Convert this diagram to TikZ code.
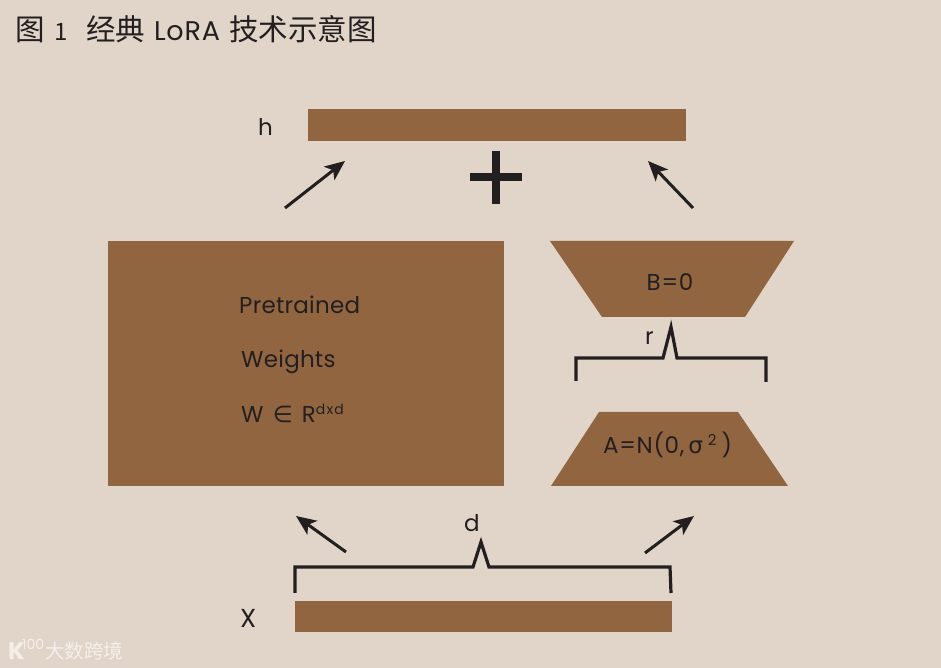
\documentclass[tikz,border=0pt]{standalone}
\usepackage{fontspec}
\setmainfont{Poppins}
\newfontfamily\cjk{Noto Sans CJK SC}
\newfontfamily\symf{DejaVu Sans}
\newfontfamily\wide[LetterSpace=3]{Poppins}
\usetikzlibrary{arrows.meta}
\definecolor{bgc}{RGB}{225,212,200}
\definecolor{brownc}{RGB}{145,101,63}
\definecolor{inkc}{RGB}{35,31,32}
\tikzset{
  bar/.style={fill=brownc,draw=none,inner sep=0pt,minimum height=32pt,minimum width=378pt},
  label/.style={text=inkc,inner sep=0pt,font=\fontsize{23}{26}\selectfont,anchor=base},
  arrowline/.style={draw=inkc,line width=3pt,-{Stealth[length=20pt,width=17pt,inset=5pt]}},
  bracket/.style={draw=inkc,line width=3.2pt,miter limit=10,line join=miter}
}
\begin{document}
\begin{tikzpicture}[x=1pt,y=1pt]
\useasboundingbox (0,0) rectangle (941,668);
\fill[bgc] (0,0) rectangle (941,668);
% title
\node[anchor=base west,inner sep=0pt,text=inkc,font=\fontsize{29.5}{30}\selectfont] (title) at (15,627) {\cjk 图\hspace{10pt}\fontsize{24}{30}\selectfont 1\hspace{18pt}\fontsize{29.5}{30}\selectfont 经典\hspace{9pt}{\wide\fontsize{27}{30}\selectfont LoRA}\hspace{9pt}技术示意图};
% bars
\node[bar,anchor=north west] (hbar) at (308,559) {};
\node[bar,anchor=north west,minimum width=377pt,minimum height=31pt] (xbar) at (295,67) {};
\node[fill=brownc,inner sep=0pt,anchor=north west,minimum width=396pt,minimum height=245pt] (w) at (108,427) {};
% trapezoids
\filldraw[fill=brownc,draw=none] (550,427) -- (794,427) -- (745,351) -- (602,351) -- cycle;
\filldraw[fill=brownc,draw=none] (599,256) -- (738,256) -- (788,182) -- (551,182) -- cycle;
\node[label] (b) at (670,377) {{\wide B=0}};
\node[label,anchor=base west] (a) at (603,214) {{\wide A=N(0,\hspace{4pt}}{\symf σ}\hspace{5pt}\raisebox{8pt}{\fontsize{15}{16}\selectfont 2}\hspace{5pt})};
% labels
\node[label,anchor=base west] (h) at (258,532) {h};
\node[label,anchor=base west,font=\fontsize{26}{28}\selectfont] (x) at (240,40) {X};
\node[label,anchor=base west] (d) at (464,136) {d};
\node[label,anchor=base west] (r) at (645,323) {r};
\node[label,anchor=base west] (p) at (239,354) {{\addfontfeature{LetterSpace=1}Pretrained}};
\node[label,anchor=base west] (we) at (241,300) {{\addfontfeature{LetterSpace=1}Weights}};
\node[label,anchor=base west] (wr) at (241,245) {W\hspace{3pt} {\symf ∈}\hspace{3pt} R\raisebox{8pt}{\addfontfeature{LetterSpace=8}\fontsize{14}{16}\selectfont dxd}};
% plus
\fill[inkc] (470,486.5) rectangle (522,494.5);
\fill[inkc] (492,464) rectangle (500,517);
% arrows
\coordinate (a1s) at (285,460); \coordinate (a1e) at (345,507);
\coordinate (a2s) at (693,460); \coordinate (a2e) at (648,507);
\coordinate (a3s) at (346,116); \coordinate (a3e) at (296,152);
\coordinate (a4s) at (645,115); \coordinate (a4e) at (694,152);
\draw[arrowline] (a1s) -- (a1e);
\draw[arrowline] (a2s) -- (a2e);
\draw[arrowline] (a3s) -- (a3e);
\draw[arrowline] (a4s) -- (a4e);
% brackets
\coordinate (bl) at (576,287); \coordinate (br) at (766,286);
\draw[bracket] (bl) |- (663,310) -- (671,341) -- (677,310) -| (br);
\coordinate (cl) at (295,75); \coordinate (cr) at (671,75);
\draw[bracket] (cl) -- (295,101) -- (473,101) -- (481,126) -- (489,101) -- (670,101) -- (cr);
% watermark
\node[anchor=base west,inner sep=0pt,text=white,opacity=.65,font=\fontsize{19.5}{22}\selectfont] (wm) at (45,9) {\cjk 大数跨境};
\node[anchor=base west,inner sep=0pt,text=white,opacity=.65,font=\bfseries\fontsize{24}{26}\selectfont] (wk) at (8,8) {K};
\node[anchor=base west,inner sep=0pt,text=white,opacity=.65,font=\fontsize{14}{14}\selectfont] (wn) at (22,18) {100};
\end{tikzpicture}
\end{document}
